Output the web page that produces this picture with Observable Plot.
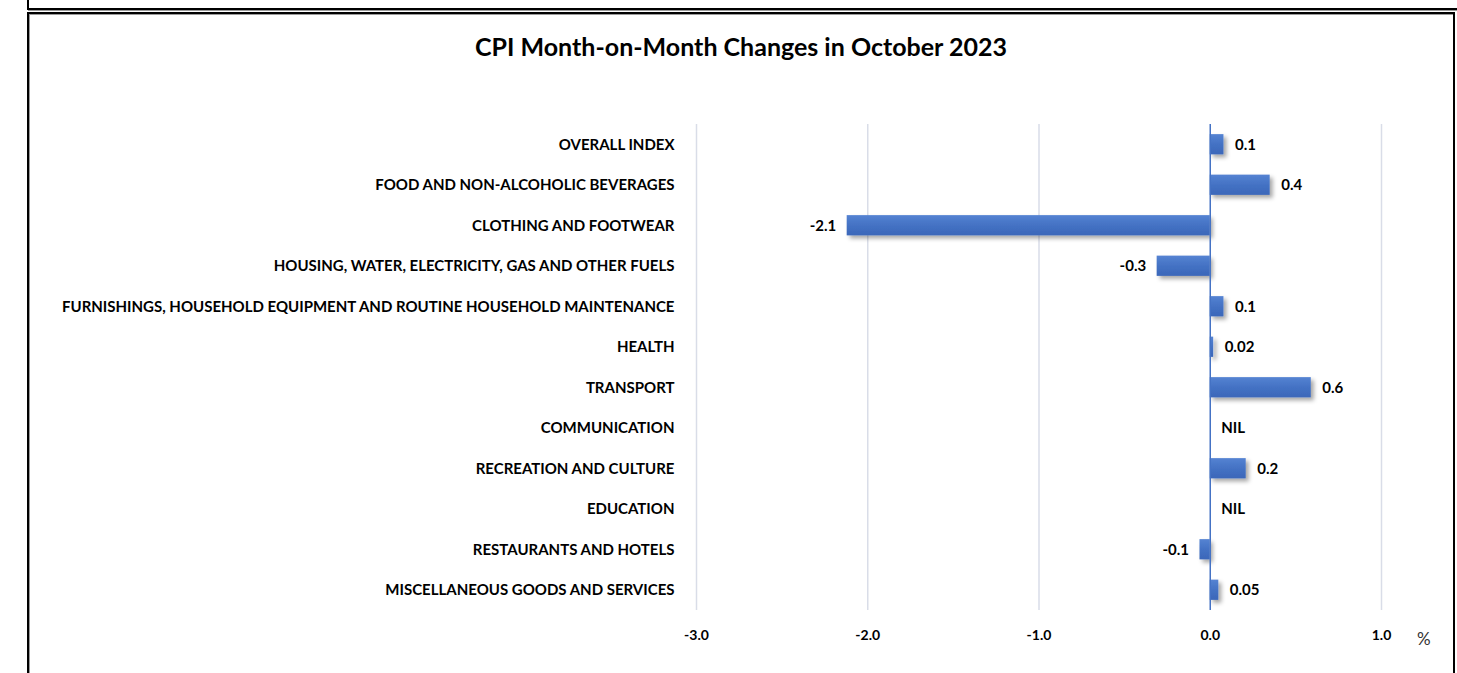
<!DOCTYPE html>
<html><head><meta charset="utf-8">
<script src="https://cdn.jsdelivr.net/npm/d3@7"></script>
<script src="https://cdn.jsdelivr.net/npm/@observablehq/plot@0.6"></script>
<style>
html,body{margin:0;padding:0;background:#fff;width:1457px;height:673px;overflow:hidden;font-family:Lato,sans-serif}
#top{position:absolute;left:27px;top:-12px;width:1440px;height:18px;border:2px solid #000;box-shadow:1px 1px 0 #999}
#frame{position:absolute;left:27px;top:12px;width:1424px;height:700px;border:2px solid #000;box-shadow:inset 1px 1px 0 #999}
#title{position:absolute;left:29px;width:1424px;top:31px;text-align:center;font-weight:bold;font-size:25px;color:#000;font-family:Lato,sans-serif}
#chart{position:absolute;left:0;top:0}
#unit{position:absolute;left:1417px;top:628px;font-size:17px;color:#333;font-family:Lato,sans-serif}
#chart g[aria-label^="x-axis"] text{font-size:14px}
</style></head>
<body>
<svg width="0" height="0" style="position:absolute">
<defs>
<linearGradient id="barGrad" x1="0" y1="0" x2="0" y2="1">
 <stop offset="0" stop-color="#5583d2"/>
 <stop offset="0.5" stop-color="#4472C4"/>
 <stop offset="1" stop-color="#3b67b9"/>
</linearGradient>
<filter id="shadow" x="-5%" y="-5%" width="110%" height="110%">
 <feDropShadow dx="3" dy="3" stdDeviation="2" flood-color="#000" flood-opacity="0.35"/>
</filter>
</defs></svg>
<div id="top"></div>
<div id="frame"></div>
<div id="title">CPI Month-on-Month Changes in October 2023</div>
<div id="chart"></div>
<div id="unit">%</div>
<script>
const categories = [
  "OVERALL INDEX",
  "FOOD AND NON-ALCOHOLIC BEVERAGES",
  "CLOTHING AND FOOTWEAR",
  "HOUSING, WATER, ELECTRICITY, GAS AND OTHER FUELS",
  "FURNISHINGS, HOUSEHOLD EQUIPMENT AND ROUTINE HOUSEHOLD MAINTENANCE",
  "HEALTH",
  "TRANSPORT",
  "COMMUNICATION",
  "RECREATION AND CULTURE",
  "EDUCATION",
  "RESTAURANTS AND HOTELS",
  "MISCELLANEOUS GOODS AND SERVICES"
];
const values = [0.08, 0.35, -2.12, -0.31, 0.08, 0.02, 0.59, 0, 0.21, 0, -0.06, 0.05];
const valueLabels = ["0.1", "0.4", "-2.1", "-0.3", "0.1", "0.02", "0.6", "NIL", "0.2", "NIL", "-0.1", "0.05"];
const xTicks = [-3, -2, -1, 0, 1];
const xTickLabels = ["-3.0", "-2.0", "-1.0", "0.0", "1.0"];

const data = categories.map((c, i) => ({category: c, value: values[i], label: valueLabels[i]}));

const chart = Plot.plot({
  width: 1457,
  height: 673,
  marginLeft: 696,
  marginRight: 76,
  marginTop: 124,
  marginBottom: 63,
  style: {fontFamily: "Lato, sans-serif", fontSize: "15px", fontWeight: "bold", color: "#000", background: "transparent", overflow: "visible"},
  x: {domain: [-3, 1], ticks: xTicks, tickFormat: d => xTickLabels[xTicks.indexOf(d)], tickSize: 0, tickPadding: 20, label: null},
  y: {domain: categories, paddingInner: 0.5, paddingOuter: 0.25, round: false, tickSize: 0, tickPadding: 22, label: null},
  marks: [
    Plot.ruleX(xTicks.filter(d => d !== 0), {stroke: "#d9dde8", strokeWidth: 1.5}),
    Plot.barX(data, {x: "value", y: "category", fill: "url(#barGrad)"}),
    Plot.ruleX([0], {stroke: "#4472C4", strokeWidth: 1.5}),
    Plot.text(data.filter(d => d.value >= 0), {x: "value", y: "category", text: "label", textAnchor: "start", dx: 11, fontWeight: "bold", fontSize: 15, fill: "#000"}),
    Plot.text(data.filter(d => d.value < 0), {x: "value", y: "category", text: "label", textAnchor: "end", dx: -11, fontWeight: "bold", fontSize: 15, fill: "#000"})
  ]
});
d3.select(chart).selectAll('g[aria-label="bar"]').attr("filter", "url(#shadow)");
document.getElementById("chart").appendChild(chart);
</script>
</body></html>
